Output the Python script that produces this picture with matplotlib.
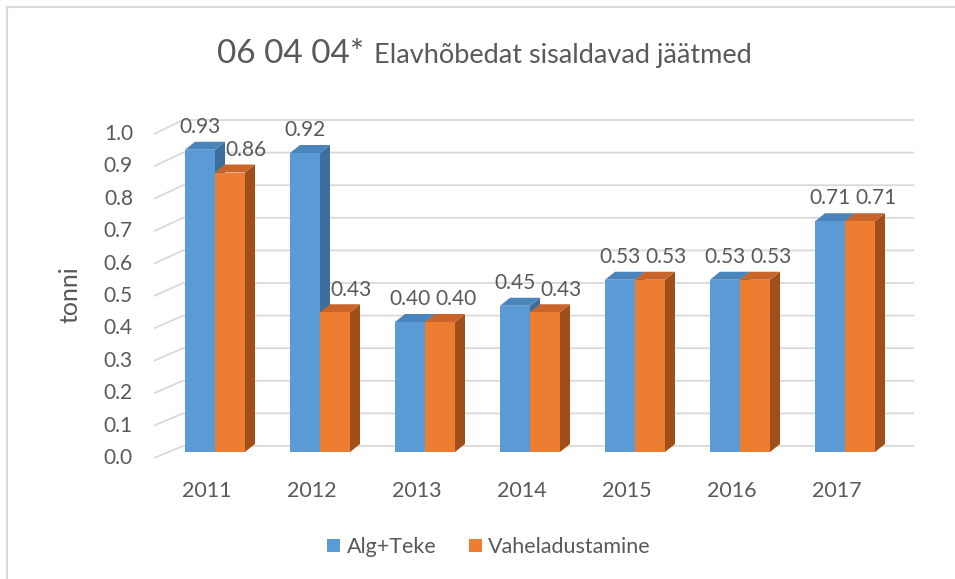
import matplotlib
matplotlib.use("Agg")
import matplotlib.pyplot as plt
from matplotlib.patches import Polygon, Patch
from matplotlib.lines import Line2D

plt.rcParams['font.family'] = ['Lato', 'DejaVu Sans']

years = ['2011', '2012', '2013', '2014', '2015', '2016', '2017']
alg_teke = [0.93, 0.92, 0.40, 0.45, 0.53, 0.53, 0.71]
vaheladustamine = [0.86, 0.43, 0.40, 0.43, 0.53, 0.53, 0.71]
series_names = ['Alg+Teke', 'Vaheladustamine']
y_ticks = [0.0, 0.1, 0.2, 0.3, 0.4, 0.5, 0.6, 0.7, 0.8, 0.9, 1.0]

W, H = 955, 579
fig = plt.figure(figsize=(W / 100, H / 100), dpi=100)

# axes placed so data units map to the reference pixel geometry
px_l, px_r, px_t, px_b = 140, 930, 100, 470
ax = fig.add_axes([px_l / W, 1 - px_b / H, (px_r - px_l) / W, (px_b - px_t) / H])
PXX = 105.0   # px per category
PXY = 325.0   # px per value unit
x0px, y0px = 215.0, 452.0
ax.set_xlim((px_l - x0px) / PXX, (px_r - x0px) / PXX)
ax.set_ylim((y0px - px_b) / PXY, (y0px - px_t) / PXY)
ax.axis('off')

grid_c = '#D9D9D9'
text_c = '#595959'

# gridlines: front diagonal + back wall horizontal
fx0 = (154 - x0px) / PXX
bx0 = (183 - x0px) / PXX
bx1 = (914 - x0px) / PXX
for v in y_ticks:
    yf = (y0px - (458 - 324 * v)) / PXY
    yb = (y0px - (446 - 326 * v)) / PXY
    ax.plot([fx0, bx0, bx1], [yf, yb, yb], color=grid_c, lw=1.3, zorder=1,
            solid_capstyle='butt')
    ax.text((133 - x0px) / PXX, yf, f'{v:.1f}', ha='right', va='center',
            fontsize=15, color=text_c)

bw = 30 / PXX
ddx = 10 / PXX
ddy = 8 / PXY

colors = {
    0: ('#5B9BD5', '#3E6F9C', '#4A84BC'),
    1: ('#ED7D31', '#A14F1A', '#C9652A'),
}

def draw_bar(xl, v, cols, z):
    front, side, top = cols
    xr = xl + bw
    ax.add_patch(Polygon([(xl, 0), (xr, 0), (xr, v), (xl, v)], closed=True,
                         facecolor=front, edgecolor='none', zorder=z + 0.2))
    ax.add_patch(Polygon([(xr, 0), (xr + ddx, ddy), (xr + ddx, v + ddy), (xr, v)],
                         closed=True, facecolor=side, edgecolor='none', zorder=z))
    ax.add_patch(Polygon([(xl, v), (xr, v), (xr + ddx, v + ddy), (xl + ddx, v + ddy)],
                         closed=True, facecolor=top, edgecolor='none', zorder=z + 0.1))

for i, (a, b) in enumerate(zip(alg_teke, vaheladustamine)):
    z = 2 + i
    draw_bar(i - bw, a, colors[0], z + 0.5)
    draw_bar(i, b, colors[1], z + 0.6)
    ax.text(i - bw / 2, a + 0.07, f'{a:.2f}', ha='center', va='center',
            fontsize=15, color=text_c, zorder=20)
    ax.text(i + bw / 2 + 0.15, b + 0.07, f'{b:.2f}', ha='center', va='center',
            fontsize=15, color=text_c, zorder=20)
    ax.text(i - 8 / PXX, (y0px - 491) / PXY, years[i], ha='center', va='center',
            fontsize=15.5, color=text_c)

# y-axis title
fig.text(70 / W, 1 - 295 / H, 'tonni', rotation=90, ha='center', va='center',
         fontsize=18, color=text_c)

# title in two sizes
t1 = fig.text(217 / W, 1 - 63 / H, '06 04 04*', ha='left', va='baseline',
              fontsize=24, color=text_c)
fig.canvas.draw()
r = fig.canvas.get_renderer()
bb = t1.get_window_extent(renderer=r)
fig.text((bb.x1 + 10) / W, 1 - 63 / H, 'Elavhõbedat sisaldavad jäätmed',
         ha='left', va='baseline', fontsize=19.5, color=text_c)

# legend
handles = [Patch(facecolor=colors[0][0], edgecolor='none'),
           Patch(facecolor=colors[1][0], edgecolor='none')]
leg = fig.legend(handles, series_names, loc='center', bbox_to_anchor=(489 / W, 1 - 547 / H),
                 ncol=2, frameon=False, handlelength=0.6, handleheight=0.6,
                 handletextpad=0.3, columnspacing=1.5, fontsize=15.5)
for t in leg.get_texts():
    t.set_color(text_c)

# chart border (top and left visible)
fig.add_artist(Line2D([7 / W, 1.0], [1 - 7 / H, 1 - 7 / H], color=grid_c, lw=1.5))
fig.add_artist(Line2D([7 / W, 7 / W], [0.0, 1 - 7 / H], color=grid_c, lw=1.5))

fig.savefig('out.png', dpi=100, facecolor='white')
